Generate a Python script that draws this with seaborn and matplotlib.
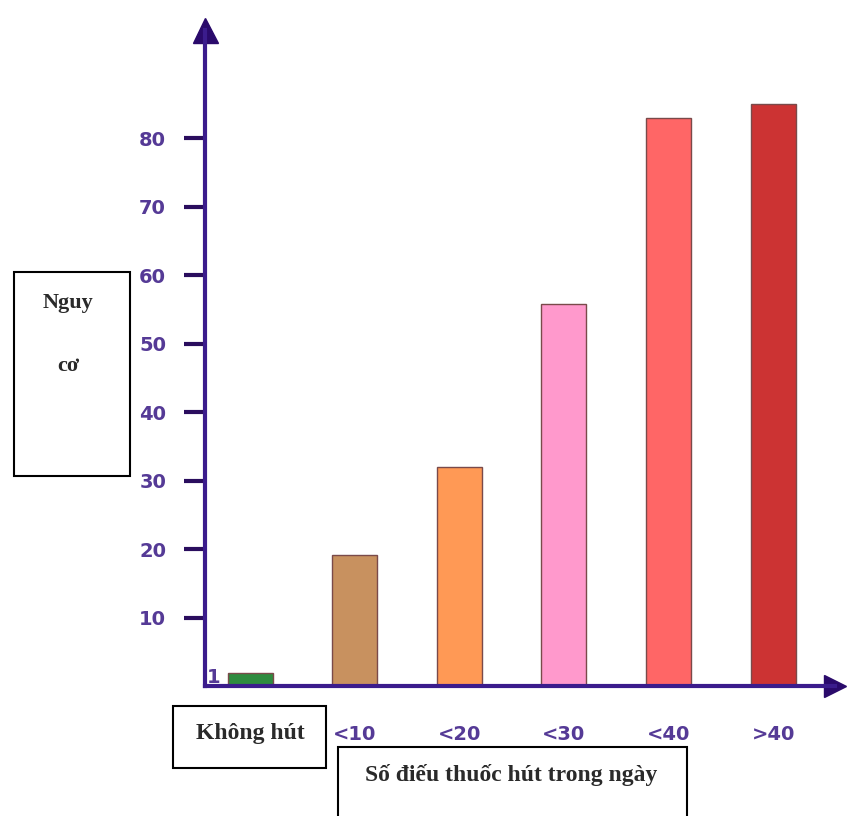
import matplotlib
matplotlib.use("Agg")
import matplotlib.pyplot as plt
from matplotlib.patches import Rectangle
import pandas as pd
import seaborn as sns

# chart data
categories = ["Không hút", "<10", "<20", "<30", "<40", ">40"]
tick_labels = ["", "<10", "<20", "<30", "<40", ">40"]
risk = [1.9, 19.2, 32.0, 55.8, 82.9, 85.0]
bar_colors = ["#2e8b3e", "#c8915f", "#ff9955", "#ff99cc", "#ff6666", "#cc3333"]
y_ticks = [10, 20, 30, 40, 50, 60, 70, 80]

df = pd.DataFrame({"nhom": categories, "nguy_co": risk})

sns.set_style("white")
W, H = 856, 816
fig = plt.figure(figsize=(W / 100, H / 100), dpi=100)

# axes placed in pixel coordinates of the reference
x0, x1, ytop, ybot = 205, 835, 30, 686
ax = fig.add_axes([x0 / W, 1 - ybot / H, (x1 - x0) / W, (ybot - ytop) / H])

sns.barplot(data=df, x="nhom", y="nguy_co", hue="nhom", palette=bar_colors,
            saturation=1, legend=False, width=0.43, edgecolor="#7a4a4a",
            linewidth=1, ax=ax)

axis_col = "#3b1c8c"
lab_col = "#553a96"
ax.set_xlim(-0.43, 5.59)
ax.set_ylim(0, 95.8)
ax.set_xlabel("")
ax.set_ylabel("")
ax.set_yticks(y_ticks)
ax.set_yticklabels([str(v) for v in y_ticks])
ax.set_xticks(range(len(tick_labels)))
ax.set_xticklabels(tick_labels)

for s in ["top", "right"]:
    ax.spines[s].set_visible(False)
for s in ["left", "bottom"]:
    ax.spines[s].set_color(axis_col)
    ax.spines[s].set_linewidth(3)

ax.tick_params(axis="y", left=True, direction="out", length=15, width=3,
               color="#2a0d5e", pad=13, labelsize=14, labelcolor=lab_col)
ax.tick_params(axis="x", bottom=False, length=0, pad=28, labelsize=14,
               labelcolor=lab_col)
for t in ax.get_xticklabels() + ax.get_yticklabels():
    t.set_fontweight("bold")

# arrow heads
ax.plot(0, 1, marker="^", markersize=18, color="#2a0a6b", transform=ax.transAxes, clip_on=False)
ax.plot(1, 0, marker=">", markersize=16, color="#2a0a6b", transform=ax.transAxes, clip_on=False)

ax.text(-0.41, 1.2, "1", color=lab_col, fontsize=14, fontweight="bold",
        ha="left", va="center")


def px_box(x, y, w, h):
    fig.patches.append(Rectangle((x / W, 1 - (y + h) / H), w / W, h / H,
                                 transform=fig.transFigure, fill=False,
                                 edgecolor="black", linewidth=1.5))


def px_text(x, y, s, size=17):
    fig.text(x / W, 1 - y / H, s, ha="center", va="center", fontsize=size,
             family="Liberation Serif", fontweight="bold", color="#2a2a2a")


px_box(14, 272, 116, 204)
px_text(68, 303, "Nguy", 16)
px_text(68, 366, "cơ", 16)

px_box(173, 706, 153, 62)
px_text(250, 733, "Không hút", 17)

px_box(338, 747, 349, 80)
px_text(511, 775, "Số điếu thuốc hút trong ngày", 17)

fig.savefig("out.png", dpi=100, facecolor="white")
